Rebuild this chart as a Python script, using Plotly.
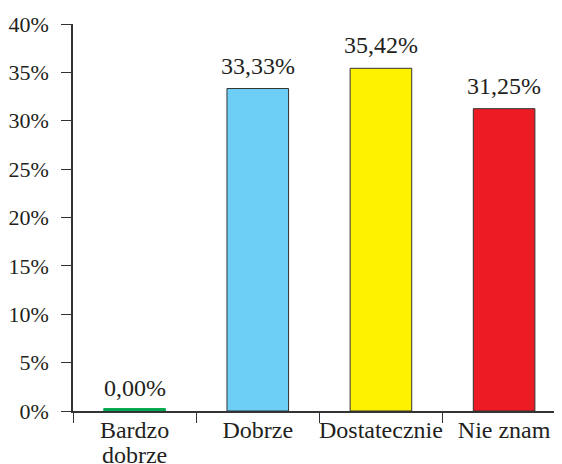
import plotly.graph_objects as go

categories = ["Bardzo dobrze", "Dobrze", "Dostatecznie", "Nie znam"]
cat_line1 = ["Bardzo", "Dobrze", "Dostatecznie", "Nie znam"]
cat_line2 = ["dobrze", "", "", ""]
values = [0.00, 33.33, 35.42, 31.25]
labels = ["0,00%", "33,33%", "35,42%", "31,25%"]
colors = ["#00A651", "#6DCFF6", "#FFF200", "#ED1C24"]
line_colors = ["#00A651", "#333333", "#333333", "#333333"]
y_ticks = [0, 5, 10, 15, 20, 25, 30, 35, 40]
y_ticktext = [f"{t}%" for t in y_ticks]

# zero-valued bars are shown as a thin line, as in the original
MIN_VISIBLE = 0.25
display = [max(v, MIN_VISIBLE) for v in values]

FONT = "Liberation Serif"
TXT = "#231F20"
AX = "#333333"
XR = [-0.5, 3.47]

fig = go.Figure()
fig.add_trace(go.Bar(
    x=categories, y=display, width=0.5,
    marker=dict(color=colors, line=dict(color=line_colors, width=1)),
    hoverinfo="skip",
))
# empty trace to host the second line of the category labels
fig.add_trace(go.Scatter(x=[], y=[], xaxis="x2", yaxis="y", hoverinfo="skip"))

for c, v, t in zip(categories, values, labels):
    fig.add_annotation(x=c, y=v, text=t, showarrow=False, yanchor="middle",
                       yshift=23, font=dict(family=FONT, size=24, color=TXT))

# page body has an 8px margin; compensate so the plot sits like the reference
fig.update_layout(
    template="none",
    width=554, height=456,
    margin=dict(l=65, r=0, t=16, b=53, autoexpand=False),
    paper_bgcolor="white", plot_bgcolor="white",
    showlegend=False,
    font=dict(family=FONT, size=22, color=TXT),
    xaxis=dict(
        automargin=False, range=XR, showline=True, linecolor=AX, linewidth=1.5,
        ticks="outside", tickson="boundaries", ticklen=10, tickcolor=AX,
        tickmode="array", tickvals=categories, ticktext=cat_line1,
        ticklabelstandoff=-4, tickangle=0,
        showgrid=False, zeroline=False, tickfont=dict(family=FONT, size=24, color=TXT),
    ),
    xaxis2=dict(
        automargin=False, overlaying="x", anchor="y", side="bottom", range=XR,
        showline=False, ticks="outside", ticklen=10, tickcolor="rgba(0,0,0,0)",
        tickmode="array", tickvals=list(range(len(cat_line2))), ticktext=cat_line2,
        ticklabelstandoff=12, tickangle=0,
        showgrid=False, zeroline=False, tickfont=dict(family=FONT, size=24, color=TXT),
    ),
    yaxis=dict(
        automargin=False, range=[0, 40], tickvals=y_ticks, ticktext=y_ticktext,
        showline=True, linecolor=AX, linewidth=1.5,
        ticks="outside", ticklen=10, tickcolor=AX, ticklabelstandoff=8,
        showgrid=False, zeroline=False, tickfont=dict(family=FONT, size=22, color=TXT),
    ),
)

fig.write_html("out.html")
